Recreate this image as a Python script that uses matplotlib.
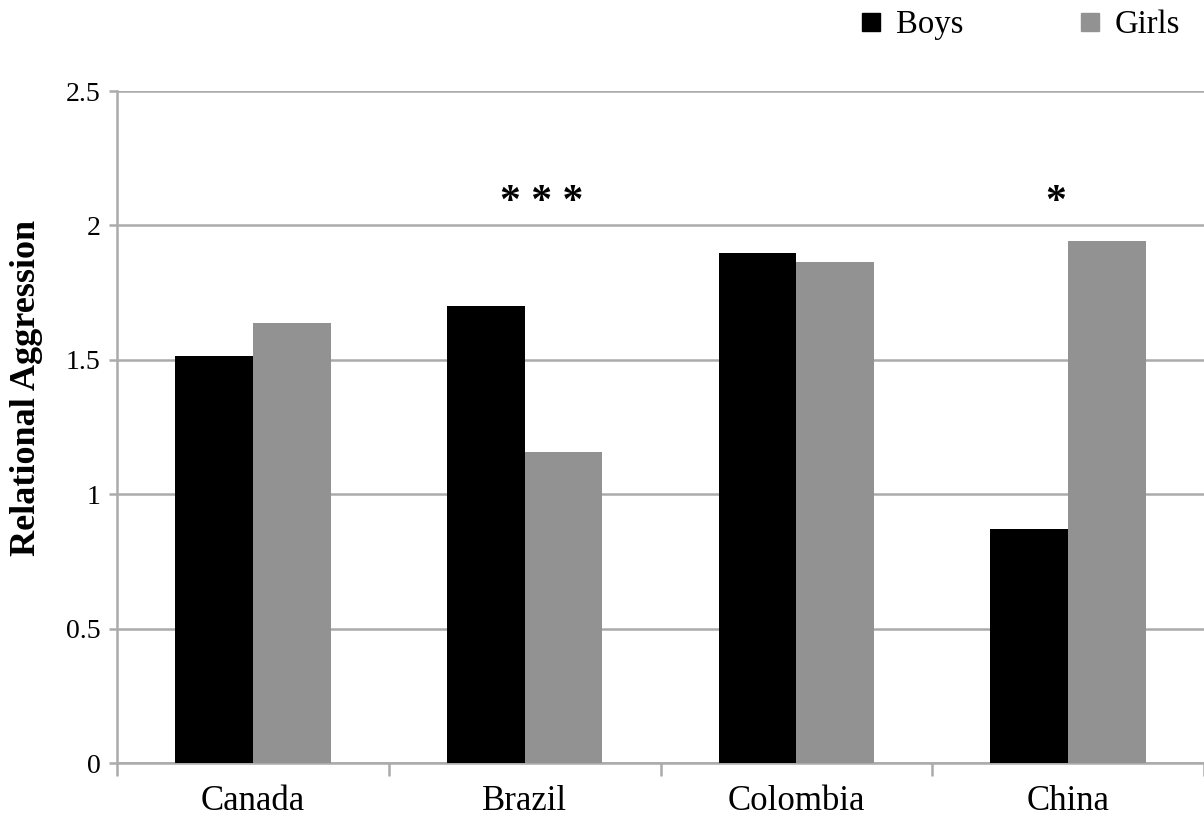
import numpy as np
import matplotlib.pyplot as plt
from matplotlib.lines import Line2D

plt.rcParams['font.family'] = ['Liberation Serif', 'DejaVu Serif']

countries = ['Canada', 'Brazil', 'Colombia', 'China']
boys = [1.514, 1.701, 1.897, 0.869]
girls = [1.638, 1.156, 1.863, 1.943]
stars = ['', '***', '', '*']
y_ticks = [0, 0.5, 1, 1.5, 2, 2.5]
y_tick_labels = ['0', '0.5', '1', '1.5', '2', '2.5']

boys_color = '#000000'
girls_color = '#929292'
grid_color = '#ababab'

fig = plt.figure(figsize=(12.04, 8.21), dpi=100)
ax = fig.add_axes([0.0972, 0.0706, 0.9028, 0.8185])

x = np.arange(len(countries)) + 0.5
w = 1 / 3.5
ax.bar(x - w / 2, boys, width=w, color=boys_color, zorder=3)
ax.bar(x + w / 2, girls, width=w, color=girls_color, zorder=3)

# significance markers above each pair
for xi, s in zip(x, stars):
    if s:
        dx = 0.062 if len(s) > 1 else -0.044
        ax.text(xi + dx, 2.085, ' '.join(s), ha='center', va='center',
                fontsize=30, fontweight='bold')

ax.set_xlim(0, len(countries))
ax.set_ylim(0, 2.5)
ax.set_yticks(y_ticks)
ax.set_yticklabels(y_tick_labels)
ax.yaxis.grid(True, color=grid_color, linewidth=1.8, zorder=0)
ax.set_axisbelow(True)

# category boundary ticks on the x axis, labels centred between them
ax.set_xticks(np.arange(len(countries) + 1))
ax.set_xticklabels([])
ax.set_xticks(x, minor=True)
ax.set_xticklabels(countries, minor=True)
ax.tick_params(axis='x', which='major', length=9, width=1.8, color=grid_color, direction='out')
ax.tick_params(axis='x', which='minor', length=0, labelsize=25, pad=16)
ax.tick_params(axis='y', length=6, width=1.8, color=grid_color, labelsize=20, pad=6)

for side in ['top', 'right']:
    ax.spines[side].set_visible(False)
for side in ['left', 'bottom']:
    ax.spines[side].set_color(grid_color)
    ax.spines[side].set_linewidth(1.8)

ax.set_ylabel('Relational Aggression', fontsize=26, fontweight='bold')
ax.yaxis.set_label_coords(-0.068, 0.558)

handles = [Line2D([], [], marker='s', linestyle='none', markersize=13, color=boys_color),
           Line2D([], [], marker='s', linestyle='none', markersize=13, color=girls_color)]
fig.legend(handles, ['Boys', 'Girls'], loc='center', bbox_to_anchor=(0.845, 0.9695),
           ncol=2, frameon=False, fontsize=23.5, handletextpad=0.25, columnspacing=3.4,
           handlelength=1.0)

fig.savefig('out.png', dpi=100)
